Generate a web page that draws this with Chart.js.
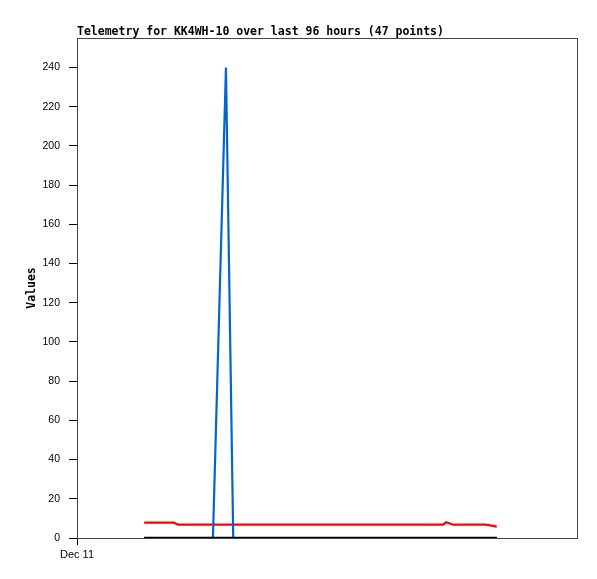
<!DOCTYPE html>
<html>
<head>
<meta charset="utf-8">
<script src="https://cdn.jsdelivr.net/npm/chart.js@4.4.1/dist/chart.umd.min.js"></script>
<style>
  html, body { margin: 0; padding: 0; background: #fff; }
  #wrap { width: 597px; height: 579px; }
</style>
</head>
<body>
<div id="wrap"><canvas id="telemetryChart" width="597" height="579"></canvas></div>
<script>
const chartTitle = "Telemetry for KK4WH-10 over last 96 hours (47 points)";
const axisLabel = "Values";
const dayLabels = ["Dec 11"];

// hours since Dec 11 00:00 for each of the 47 points
const hours = [12.9, 14.3, 15.8, 17.2, 18.6, 19.4, 20.8, 22.3, 23.7, 25.1,
    26.1, 28.6, 30.0, 31.4, 32.9, 34.3, 35.8, 37.2, 38.7, 40.1,
    41.6, 43.0, 44.5, 45.9, 47.4, 48.8, 50.3, 51.7, 53.2, 54.6,
    56.1, 57.5, 59.0, 60.4, 61.9, 63.3, 64.8, 66.2, 67.7, 69.1,
    70.3, 70.9, 71.6, 72.2, 78.5, 79.6, 80.6];

const redValues = [7.8, 7.8, 7.8, 7.8, 7.8, 6.8, 6.8, 6.8, 6.8, 6.8,
    6.8, 6.8, 6.8, 6.8, 6.8, 6.8, 6.8, 6.8, 6.8, 6.8,
    6.8, 6.8, 6.8, 6.8, 6.8, 6.8, 6.8, 6.8, 6.8, 6.8,
    6.8, 6.8, 6.8, 6.8, 6.8, 6.8, 6.8, 6.8, 6.8, 6.8,
    6.8, 8.0, 7.4, 6.8, 6.8, 6.3, 5.8];

const blueValues = [0, 0, 0, 0, 0, 0, 0, 0, 0, 0,
    0, 240, 0, 0, 0, 0, 0, 0, 0, 0,
    0, 0, 0, 0, 0, 0, 0, 0, 0, 0,
    0, 0, 0, 0, 0, 0, 0, 0, 0, 0,
    0, 0, 0, 0, 0, 0, 0];

const blackValues = [0, 0, 0, 0, 0, 0, 0, 0, 0, 0,
    0, 0, 0, 0, 0, 0, 0, 0, 0, 0,
    0, 0, 0, 0, 0, 0, 0, 0, 0, 0,
    0, 0, 0, 0, 0, 0, 0, 0, 0, 0,
    0, 0, 0, 0, 0, 0, 0];

const toPoints = (vals) => vals.map((v, i) => ({ x: hours[i], y: v }));

// frame around the plot + title at the plot's left edge
const framePlugin = {
    id: "frame",
    beforeDatasetsDraw(chart) {
        const { ctx, chartArea: a } = chart;
        ctx.save();
        ctx.strokeStyle = "#444";
        ctx.lineWidth = 1;
        ctx.strokeRect(Math.round(a.left) + 0.5, Math.round(a.top) + 0.5,
            Math.round(a.right - a.left), Math.round(a.bottom - a.top));
        ctx.restore();
    },
    afterDraw(chart) {
        const { ctx, chartArea: a } = chart;
        ctx.save();
        ctx.fillStyle = "#000";
        ctx.font = "bold 11.5px 'DejaVu Sans Mono'";
        ctx.textBaseline = "alphabetic";
        ctx.textAlign = "left";
        ctx.fillText(chartTitle, a.left, 35);
        ctx.restore();
    }
};

const config = {
    type: "line",
    data: {
        datasets: [
            {
                label: "black",
                data: toPoints(blackValues),
                borderColor: "#000",
                borderWidth: 2.5,
                order: 0
            },
            {
                label: "blue",
                data: toPoints(blueValues),
                borderColor: "#0066cc",
                borderWidth: 2.2,
                order: 1
            },
            {
                label: "red",
                data: toPoints(redValues),
                borderColor: "#ff0000",
                borderWidth: 2.2,
                order: 2
            }
        ]
    },
    options: {
        responsive: false,
        animation: false,
        events: [],
        layout: { padding: { top: 38, right: 20, left: 0, bottom: 0 } },
        elements: {
            point: { radius: 0 },
            line: { tension: 0, borderCapStyle: "butt" }
        },
        plugins: {
            legend: { display: false },
            tooltip: { enabled: false },
            title: { display: false }
        },
        scales: {
            x: {
                type: "linear",
                min: 0,
                max: 96,
                afterBuildTicks: (s) => { s.ticks = [{ value: 0 }]; },
                afterFit: (s) => { s.height = 41; },
                grid: {
                    display: true,
                    drawOnChartArea: false,
                    drawTicks: true,
                    tickLength: 7,
                    color: "#000"
                },
                border: { display: true, color: "#000", width: 1 },
                ticks: {
                    padding: 3,
                    color: "#000",
                    maxRotation: 0,
                    font: { family: "'Liberation Sans'", size: 11 },
                    callback: (v, i) => dayLabels[i]
                }
            },
            y: {
                min: 0,
                max: 255,
                afterBuildTicks: (s) => { s.ticks = s.ticks.filter(t => t.value <= 240 && t.value % 20 === 0); },
                afterFit: (s) => { s.width = 77; },
                grid: {
                    display: true,
                    drawOnChartArea: false,
                    drawTicks: true,
                    tickLength: 8,
                    color: "#000"
                },
                border: { display: true, color: "#000", width: 1 },
                ticks: {
                    stepSize: 20,
                    padding: 9,
                    color: "#000",
                    font: { family: "'Liberation Sans'", size: 10.5 }
                },
                title: {
                    display: true,
                    text: axisLabel,
                    color: "#000",
                    padding: { top: 25, bottom: 0 },
                    font: { family: "'DejaVu Sans Mono'", size: 11.5, weight: "bold" }
                }
            }
        }
    },
    plugins: [framePlugin]
};

new Chart(document.getElementById("telemetryChart"), config);
</script>
</body>
</html>
